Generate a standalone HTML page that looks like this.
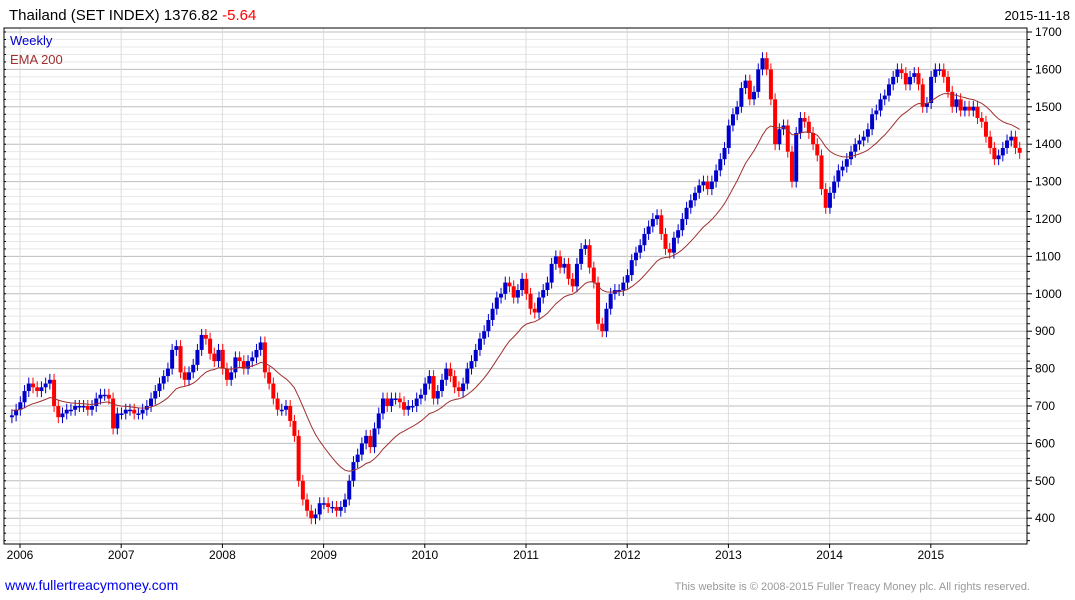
<!DOCTYPE html>
<html><head><meta charset="utf-8">
<style>
body{margin:0;background:#fff;font-family:"Liberation Sans",Arial,sans-serif;}
#wrap{position:relative;width:1075px;height:600px;overflow:hidden;}
</style></head>
<body>
<div id="wrap">
<svg id="chart" width="1075" height="600" xmlns="http://www.w3.org/2000/svg">
  <g id="grid"></g>
  <g id="bars"></g>
  <path id="ema" fill="none" stroke="#a03030" stroke-width="1"/>
  <g id="axes"></g>
  <text x="9" y="20" font-size="15" fill="#000">Thailand (SET INDEX) 1376.82 <tspan fill="#ff0000">-5.64</tspan></text>
  <text x="1070" y="20" font-size="13" text-anchor="end" fill="#000">2015-11-18</text>
  <text x="10" y="45" font-size="13" fill="#0000cc">Weekly</text>
  <text x="10" y="64" font-size="13" fill="#a03030">EMA 200</text>
  <text x="5" y="590" font-size="14" fill="#0000ee">www.fullertreacymoney.com</text>
  <text x="1030" y="590" font-size="11" text-anchor="end" fill="#999">This website is © 2008-2015 Fuller Treacy Money plc. All rights reserved.</text>
</svg>
</div>
<script>
const startYear = 2005.92;
const closes2005 = [675, 690];
const closes2006 = [710,740,760,750,740,750,760,770,700,670,680,690,690,700,700,700,690,700,720,730,730,720,640,680];
const closes2007 = [680,690,690,680,680,690,700,720,740,760,780,800,850,860,790,770,790,810,850,890,880,840,820,850];
const closes2008 = [800,770,790,830,820,800,820,830,850,870,790,760,720,690,690,700,660,620,500,450,420,400,410,440];
const closes2009 = [440,430,430,420,430,450,500,550,570,600,620,590,640,680,720,700,720,720,710,690,700,700,720,730];
const closes2010 = [760,780,720,740,770,800,780,750,740,760,800,820,850,880,900,930,960,990,1000,1030,1020,990,1010,1040];
const closes2011 = [1000,960,950,990,1010,1030,1080,1100,1070,1080,1040,1020,1080,1120,1130,1070,1030,920,900,960,1000,1010,1010,1030];
const closes2012 = [1050,1090,1110,1130,1160,1180,1200,1210,1160,1120,1110,1150,1170,1200,1230,1250,1270,1290,1300,1280,1300,1330,1360,1390];
const closes2013 = [1450,1480,1500,1550,1570,1520,1540,1600,1630,1600,1520,1400,1440,1450,1380,1300,1430,1470,1460,1430,1400,1370,1280,1230];
const closes2014 = [1270,1300,1330,1340,1360,1380,1400,1410,1420,1440,1480,1490,1520,1530,1560,1580,1600,1590,1560,1580,1590,1560,1500,1510];
const closes2015 = [1580,1600,1600,1580,1540,1500,1520,1490,1500,1490,1500,1470,1460,1420,1390,1360,1370,1390,1410,1420,1390,1377];
const yTicks = [400,500,600,700,800,900,1000,1100,1200,1300,1400,1500,1600,1700];
const xTickYears = [2006,2007,2008,2009,2010,2011,2012,2013,2014,2015];
const emaSeed = 690;

const NS = "http://www.w3.org/2000/svg";
const closes = [].concat(closes2005,closes2006,closes2007,closes2008,closes2009,closes2010,closes2011,closes2012,closes2013,closes2014,closes2015);
const L=4, R=1027, T=28, B=544;
function xScale(t){return 20 + (t-2006)*101.2;}
function yScale(v){return 32 + (1700-v)*0.374;}
function mk(tag, attrs, parent){const e=document.createElementNS(NS,tag);for(const k in attrs)e.setAttribute(k,attrs[k]);parent.appendChild(e);return e;}

const grid=document.getElementById('grid');
const bg = mk('rect',{x:L,y:T,width:R-L,height:B-T,fill:'#fff'},grid);


for(let v=340; v<=1720; v+=20){
  const y=yScale(v); if(y<T||y>B) continue;
  const major = v%100===0;
  const ln = mk('line',{x1:L,x2:R,y1:y,y2:y,stroke:major?'#bdbdbd':'#e8e8e8','stroke-width':1},grid);
  
  
}
xTickYears.forEach(yr=>{
  const x=xScale(yr);
  const ln = mk('line',{x1:x,x2:x,y1:T,y2:B,stroke:'#dcdcdc','stroke-width':1},grid);
  
  
});

const bars=document.getElementById('bars');
let prev = closes[0]-5;
closes.forEach((c,i)=>{
  const t = startYear + i/24;
  const x = xScale(t);
  const o = prev;
  const hi = Math.max(o,c)+16, lo=Math.min(o,c)-16;
  const col = c>=o ? '#0000cc' : '#ff0000';
  const w = mk('line',{x1:x,x2:x,y1:yScale(hi),y2:yScale(lo),stroke:col,'stroke-width':1},bars);
  
  
  const top=yScale(Math.max(o,c)), bot=yScale(Math.min(o,c));
  const r = mk('rect',{x:x-2,y:top,width:4,height:Math.max(1.5,bot-top),fill:col},bars);
  
  
  prev=c;
});

let ema=emaSeed; const a=2/21; let d='';
closes.forEach((c,i)=>{
  ema = ema + a*(c-ema);
  const x=xScale(startYear+i/24), y=yScale(ema);
  d += (i?'L':'M')+x.toFixed(1)+' '+y.toFixed(1);
});
document.getElementById('ema').setAttribute('d',d);

const axes=document.getElementById('axes');
mk('rect',{x:L,y:T,width:R-L,height:B-T,fill:'none',stroke:'#000','stroke-width':1},axes);
for(let v=340; v<=1720; v+=20){
  const y=yScale(v); if(y<T||y>B) continue;
  const major=v%100===0;
  const tk = mk('line',{x1:R,x2:R+(major?5:3),y1:y,y2:y,stroke:'#000'},axes);
  
  
  const tk2 = mk('line',{x1:L,x2:L+2,y1:y,y2:y,stroke:'#000'},axes);
  
  
}
yTicks.forEach(v=>{
  const tx = mk('text',{x:1035,y:yScale(v)+4,'font-size':12,fill:'#000'},axes);
  tx.textContent=v;
  
  
});
xTickYears.forEach(yr=>{
  const x=xScale(yr);
  const tk = mk('line',{x1:x,x2:x,y1:B,y2:B+4,stroke:'#000'},axes);
  
  
  const tx = mk('text',{x:x,y:B+15,'font-size':12,'text-anchor':'middle',fill:'#000'},axes);
  tx.textContent=yr;
  
  
});
</script>
</body></html>
